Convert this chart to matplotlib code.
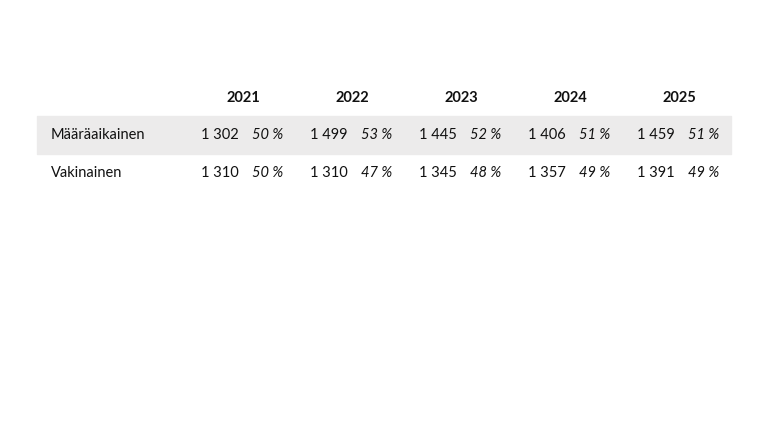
import matplotlib.pyplot as plt
from matplotlib.patches import Rectangle

years = ["2021", "2022", "2023", "2024", "2025"]
row_labels = ["Määräaikainen", "Vakinainen"]
counts = [
    ["1 302", "1 499", "1 445", "1 406", "1 459"],
    ["1 310", "1 310", "1 345", "1 357", "1 391"],
]
shares = [
    ["50 %", "53 %", "52 %", "51 %", "51 %"],
    ["50 %", "47 %", "48 %", "49 %", "49 %"],
]

W, H = 768, 432
plt.rcParams["font.family"] = ["Lato", "DejaVu Sans"]
fig = plt.figure(figsize=(W / 100, H / 100), dpi=100)


def px(x, y):
    return x / W, 1 - y / H


# grey band behind first data row
fig.patches.append(Rectangle(px(37, 154), (731 - 37) / W, 38 / H,
                             transform=fig.transFigure, color="#ecebeb", zorder=0))

col_centers = [243, 352, 461, 570, 679]
header_y = 98
row_ys = [135, 173]

for yr, cx in zip(years, col_centers):
    fig.text(*px(cx, header_y), yr, ha="center", va="center",
             fontsize=10.5, fontweight="bold", color="#111111")

for r, (label, ry) in enumerate(zip(row_labels, row_ys)):
    fig.text(*px(51, ry), label, ha="left", va="center", fontsize=10.5, color="#111111")
    for c, cx in enumerate(col_centers):
        fig.text(*px(cx - 4, ry), counts[r][c], ha="right", va="center",
                 fontsize=10.5, color="#111111")
        fig.text(*px(cx + 40, ry), shares[r][c], ha="right", va="center",
                 fontsize=10.5, style="italic", color="#111111")

fig.savefig("out.png", dpi=100, facecolor="white")
